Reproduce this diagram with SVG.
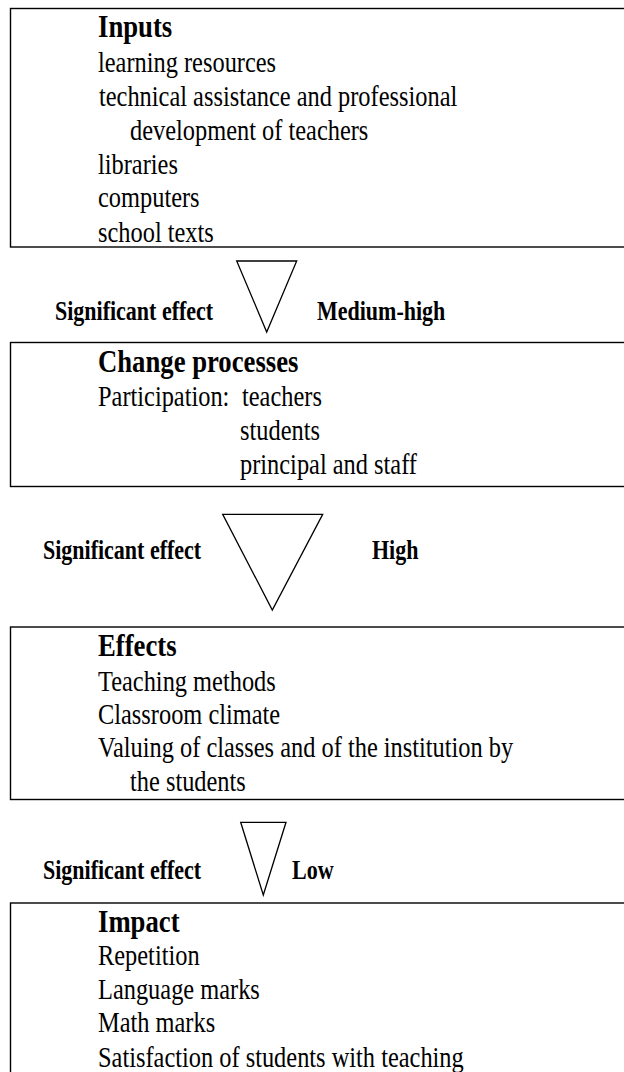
<svg xmlns="http://www.w3.org/2000/svg" width="624" height="1072" viewBox="0 0 624 1072">
<style>
.box{fill:#fff;stroke:#000;stroke-width:1.4}
.tri{fill:#fff;stroke:#000;stroke-width:1.3}
text{font-family:"Liberation Serif","Times New Roman",serif;fill:#000}
.h{font-size:26.7px;font-weight:bold}
.b{font-size:24.4px}
.l{font-size:22px;font-weight:bold}
</style>
<rect x="0" y="0" width="624" height="1072" fill="#fff"/>
<g id="inputs">
<rect class="box" x="10.5" y="8.5" width="630" height="238.5"/>
<text class="h" transform="translate(98,37) scale(1,1.22)">Inputs</text>
<text class="b" transform="translate(98,72) scale(1,1.22)">learning resources</text>
<text class="b" transform="translate(99,106) scale(1,1.22)">technical assistance and professional</text>
<text class="b" transform="translate(130,140) scale(1,1.22)">development of teachers</text>
<text class="b" transform="translate(98,174) scale(1,1.22)">libraries</text>
<text class="b" transform="translate(98,207) scale(1,1.22)">computers</text>
<text class="b" transform="translate(98,241.5) scale(1,1.22)">school texts</text>
</g>
<g id="change">
<rect class="box" x="10.5" y="342.5" width="630" height="144"/>
<text class="h" transform="translate(98,372) scale(1,1.22)">Change processes</text>
<text class="b" transform="translate(98,406) scale(1,1.22)">Participation:</text>
<text class="b" transform="translate(242,406) scale(1,1.22)">teachers</text>
<text class="b" transform="translate(240,440) scale(1,1.22)">students</text>
<text class="b" transform="translate(240,474) scale(1,1.22)">principal and staff</text>
</g>
<g id="effects">
<rect class="box" x="10.5" y="627" width="630" height="172.5"/>
<text class="h" transform="translate(98,656) scale(1,1.22)">Effects</text>
<text class="b" transform="translate(98,690.7) scale(1,1.22)">Teaching methods</text>
<text class="b" transform="translate(98,724) scale(1,1.22)">Classroom climate</text>
<text class="b" transform="translate(98,757.3) scale(1,1.22)">Valuing of classes and of the institution by</text>
<text class="b" transform="translate(130,790.7) scale(1,1.22)">the students</text>
</g>
<g id="impact">
<rect class="box" x="10.5" y="903" width="630" height="180"/>
<text class="h" transform="translate(98,931.7) scale(1,1.22)">Impact</text>
<text class="b" transform="translate(98,965) scale(1,1.22)">Repetition</text>
<text class="b" transform="translate(98,999) scale(1,1.22)">Language marks</text>
<text class="b" transform="translate(98,1032.3) scale(1,1.22)">Math marks</text>
<text class="b" transform="translate(98,1066.7) scale(1,1.22)">Satisfaction of students with teaching</text>
</g>
<g id="connectors">
<polygon class="tri" points="236.7,261 296.7,261 266.7,332"/>
<text class="l" transform="translate(55,320) scale(1,1.25)">Significant effect</text>
<text class="l" transform="translate(317,320) scale(1,1.25)">Medium-high</text>
<polygon class="tri" points="222.7,514.3 322.7,514.3 272.3,610"/>
<text class="l" transform="translate(43,558.5) scale(1,1.25)">Significant effect</text>
<text class="l" transform="translate(372,558.5) scale(1,1.25)">High</text>
<polygon class="tri" points="240.7,822.3 286,822.3 263.3,895"/>
<text class="l" transform="translate(43,879) scale(1,1.25)">Significant effect</text>
<text class="l" transform="translate(292,879) scale(1,1.25)">Low</text>
</g>
</svg>
